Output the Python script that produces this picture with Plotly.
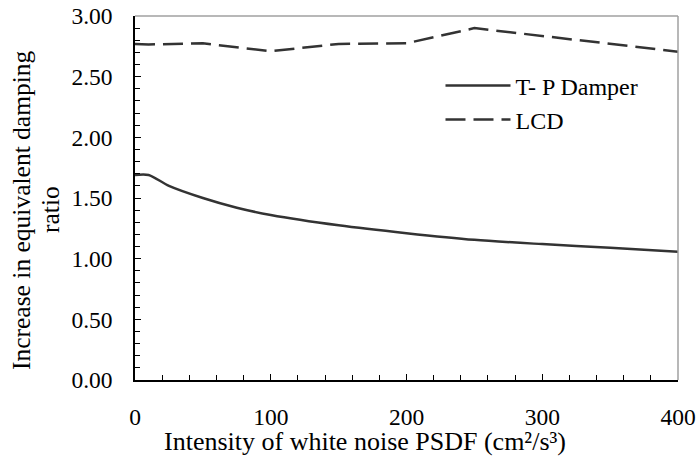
import plotly.graph_objects as go

# Data
tp_x = [0, 10, 25, 50, 75, 100, 150, 200, 250, 300, 350, 400]
tp_y = [1.69, 1.69, 1.60, 1.50, 1.42, 1.36, 1.275, 1.21, 1.155, 1.12, 1.09, 1.058]

lcd_x = [0, 10, 50, 100, 150, 200, 250, 400]
lcd_y = [2.77, 2.765, 2.775, 2.71, 2.77, 2.775, 2.90, 2.706]

y_ticks = [0, 0.5, 1.0, 1.5, 2.0, 2.5, 3.0]
y_labels = ["0.00", "0.50", "1.00", "1.50", "2.00", "2.50", "3.00"]
x_ticks = [0, 100, 200, 300, 400]

FONT = "Liberation Serif"
LINE_COLOR = "#333333"

fig = go.Figure()
fig.add_trace(go.Scatter(
    x=tp_x, y=tp_y, mode="lines", name="T- P Damper",
    line=dict(color=LINE_COLOR, width=2.5, shape="spline", smoothing=0.8),
))
fig.add_trace(go.Scatter(
    x=lcd_x, y=lcd_y, mode="lines", name="LCD",
    line=dict(color=LINE_COLOR, width=2.5, dash="20px,8px"),
))

fig.update_layout(
    width=699, height=457,
    margin=dict(l=135, r=21, t=16, b=77, autoexpand=False),
    paper_bgcolor="white", plot_bgcolor="white",
    font=dict(family=FONT, size=23, color="black"),
    showlegend=True,
    legend=dict(x=0.5626, y=0.87, xanchor="left", yanchor="top",
                bgcolor="rgba(0,0,0,0)", font=dict(size=24, family=FONT),
                tracegroupgap=0, itemwidth=65),
    xaxis=dict(
        range=[0, 400], tickvals=x_ticks, showgrid=False, zeroline=False,
        showline=True, linecolor="black", linewidth=1.5,
        ticks="inside", ticklen=6, tickcolor="black",
        ticklabelstandoff=15,
        minor=dict(dtick=20, ticks="inside", ticklen=5, tickcolor="black"),
        tickfont=dict(size=23.5, family=FONT),
    ),
    yaxis=dict(
        range=[0, 3], tickvals=y_ticks, ticktext=y_labels, showgrid=False,
        zeroline=False, showline=True, linecolor="black", linewidth=1.5,
        ticks="inside", ticklen=6, tickcolor="black",
        ticklabelstandoff=16,
        minor=dict(dtick=0.1, ticks="inside", ticklen=5, tickcolor="black"),
        tickfont=dict(size=23.5, family=FONT),
    ),
    shapes=[
        dict(type="line", xref="paper", yref="paper", x0=0, x1=1, y0=1, y1=1,
             line=dict(color="#a0a0a0", width=1.5)),
        dict(type="line", xref="paper", yref="paper", x0=1, x1=1, y0=0, y1=1,
             line=dict(color="#a0a0a0", width=1.5)),
    ],
    annotations=[
        dict(text="Intensity of white noise PSDF (cm²/s³)",
             xref="paper", yref="paper", x=(365 - 135) / 543, y=-(441 - 380) / 364,
             xanchor="center", yanchor="middle", showarrow=False,
             font=dict(size=26, family=FONT)),
        dict(text="Increase in equivalent damping",
             xref="paper", yref="paper", x=-(135 - 21) / 543, y=(380 - 210) / 364,
             xanchor="center", yanchor="middle", textangle=-90, showarrow=False,
             font=dict(size=25.5, family=FONT)),
        dict(text="ratio",
             xref="paper", yref="paper", x=-(135 - 50) / 543, y=(380 - 210) / 364,
             xanchor="center", yanchor="middle", textangle=-90, showarrow=False,
             font=dict(size=25.5, family=FONT)),
    ],
)

fig.write_html("out.html", config={"displayModeBar": False},
               post_script="document.body.style.margin='0px';")
